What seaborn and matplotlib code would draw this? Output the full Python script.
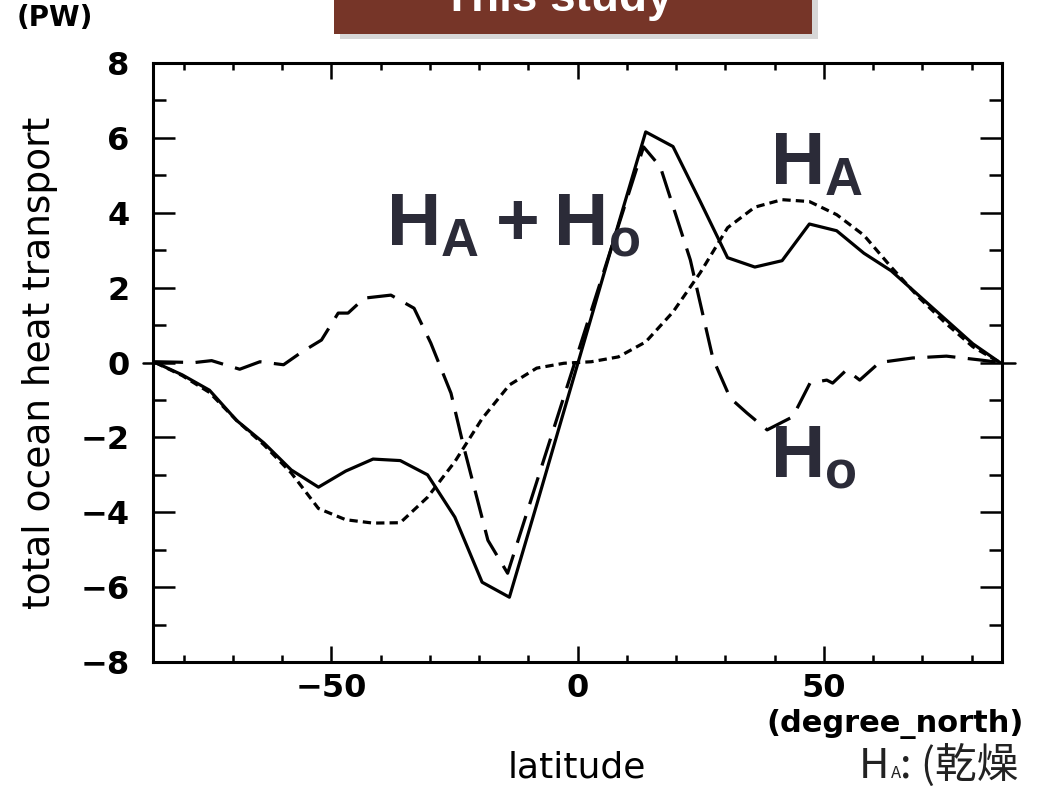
import numpy as np
import pandas as pd
import seaborn as sns
import matplotlib.pyplot as plt
from matplotlib.patches import Rectangle
from matplotlib.ticker import MultipleLocator

sns.set_theme(style='ticks')
plt.rcParams['font.family'] = ['DejaVu Sans']
plt.rcParams['mathtext.fontset'] = 'custom'
plt.rcParams['mathtext.bf'] = 'Liberation Sans:bold'
plt.rcParams['mathtext.rm'] = 'Liberation Sans'
plt.rcParams['text.color'] = 'black'
plt.rcParams['axes.labelcolor'] = 'black'
plt.rcParams['xtick.color'] = 'black'
plt.rcParams['ytick.color'] = 'black'

# T21 gaussian latitudes (atmosphere / total)
lat = [-85.76, -80.27, -74.74, -69.21, -63.68, -58.14, -52.61, -47.07, -41.53, -36.00,
       -30.46, -24.92, -19.38, -13.84, -8.30, -2.77, 2.77, 8.30, 13.84, 19.38,
       24.92, 30.46, 36.00, 41.53, 47.07, 52.61, 58.14, 63.68, 69.21, 74.74, 80.27, 85.76]
total = [0.0, -0.33, -0.74, -1.55, -2.15, -2.87, -3.33, -2.9, -2.58, -2.62,
         -3.0, -4.13, -5.87, -6.27, -3.8, -1.3, 1.2, 3.7, 6.16, 5.77,
         4.3, 2.8, 2.55, 2.72, 3.7, 3.52, 2.92, 2.45, 1.8, 1.15, 0.5, 0.0]
atmos = [0.0, -0.35, -0.8, -1.55, -2.2, -2.95, -3.9, -4.2, -4.29, -4.28,
         -3.6, -2.65, -1.5, -0.6, -0.15, -0.02, 0.02, 0.15, 0.55, 1.35,
         2.4, 3.6, 4.15, 4.35, 4.3, 3.95, 3.4, 2.55, 1.75, 1.05, 0.42, 0.0]

# ocean line (own sampling)
lat_ocean = [-85.8, -77.7, -74.3, -68.6, -64.5, -59.7, -56.0, -52.0, -48.6, -46.6, -43.3,
             -37.9, -33.2, -29.8, -25.7, -23.1, -18.2, -14.2, 13.4, 16.8, 22.9,
             27.5, 31.0, 34.4, 38.5, 43.7, 47.2, 50.6, 51.8, 54.6, 57.3, 61.3,
             68.0, 74.9, 81.6, 85.8]
ocean = [0.02, 0.0, 0.05, -0.18, 0.02, -0.06, 0.28, 0.6, 1.32, 1.32, 1.72,
         1.8, 1.45, 0.52, -0.82, -2.26, -4.75, -5.63, 5.76, 5.23, 2.74,
         0.1, -0.95, -1.35, -1.8, -1.45, -0.55, -0.47, -0.55, -0.2, -0.47, 0.0,
         0.12, 0.17, 0.07, 0.0]

df = pd.DataFrame({'lat': lat, 'total': total, 'atmos': atmos})
df_o = pd.DataFrame({'lat': lat_ocean, 'ocean': ocean})

fig = plt.figure(figsize=(10.46, 7.86), dpi=100)
ax = fig.add_axes([0.1463, 0.1578, 0.8117, 0.762])

sns.lineplot(data=df, x='lat', y='total', ax=ax, color='black', lw=2.3, sort=False, estimator=None)
sns.lineplot(data=df, x='lat', y='atmos', ax=ax, color='black', lw=2.3, sort=False, estimator=None,
             linestyle=(0, (2.6, 1.6)))
sns.lineplot(data=df_o, x='lat', y='ocean', ax=ax, color='black', lw=2.3, sort=False, estimator=None,
             linestyle=(0, (8.8, 3.9)))

ax.set_xlim(-86.2, 86.2)
ax.set_ylim(-8, 8)
ax.xaxis.set_major_locator(MultipleLocator(50))
ax.xaxis.set_minor_locator(MultipleLocator(10))
ax.yaxis.set_major_locator(MultipleLocator(2))
ax.yaxis.set_minor_locator(MultipleLocator(1))
ax.tick_params(axis='both', which='both', direction='in', top=True, right=True, color='black', width=1.8)
ax.tick_params(axis='y', which='major', length=15.8, pad=17, labelsize=23)
ax.tick_params(axis='y', which='minor', length=9.4)
ax.tick_params(axis='x', which='major', length=11.5, pad=8, labelsize=23)
ax.tick_params(axis='x', which='minor', length=5)
for lab in ax.get_xticklabels() + ax.get_yticklabels():
    lab.set_fontweight('bold')
for sp in ax.spines.values():
    sp.set_linewidth(2.2)
    sp.set_color('black')
# zero tick poking outside the frame
ax.axhline(0, xmin=-0.012, xmax=0.0, clip_on=False, color='black', lw=1.8)
ax.axhline(0, xmin=1.0, xmax=1.015, clip_on=False, color='black', lw=1.8)

ax.set_xlabel('')
ax.set_ylabel('total ocean heat transport', fontsize=27)
ax.yaxis.set_label_coords(-0.112, 0.5)

fig.text(55 / 1046, 1 - 18 / 786, '(PW)', ha='center', va='center', fontsize=20, fontweight='bold')
fig.text(895 / 1046, 1 - 724 / 786, '(degree_north)', ha='center', va='center', fontsize=22,
         fontweight='bold')
fig.text(577 / 1046, 1 - 767 / 786, 'latitude', ha='center', va='center', fontsize=26)

# big labels
lab_col = '#2b2b38'
ax.text(-38.9, 3.14, r'$\mathbf{H_A + H_o}$', fontsize=54, color=lab_col, ha='left', va='baseline')
ax.text(39.1, 4.75, r'$\mathbf{H_A}$', fontsize=54, color=lab_col, ha='left', va='baseline')
ax.text(39.1, -3.06, r'$\mathbf{H_o}$', fontsize=54, color=lab_col, ha='left', va='baseline')

# banner at the top
fig.patches.append(Rectangle((340 / 1046, 1 - 39 / 786), 478 / 1046, 40 / 786, transform=fig.transFigure,
                             facecolor='#b0b0b0', alpha=0.5, edgecolor='none', zorder=1))
fig.patches.append(Rectangle((334 / 1046, 1 - 34 / 786), 478 / 1046, 40 / 786, transform=fig.transFigure,
                             facecolor='#763528', edgecolor='none', zorder=2))
fig.text(558 / 1046, 1 - 11 / 786, 'This study', ha='center', va='baseline', fontsize=33,
         fontweight='bold', color='white', family='Liberation Sans', zorder=3)

# bottom-right note
note_font = ['Noto Sans CJK JP', 'DejaVu Sans']
fig.text(859 / 1046, 1 - 778 / 786, 'H', ha='left', va='baseline', fontsize=30, color='#222222',
         family=note_font)
fig.text(891 / 1046, 1 - 778 / 786, 'A', ha='left', va='baseline', fontsize=12, color='#222222',
         family=note_font)
fig.text(900 / 1046, 1 - 778 / 786, ': (乾燥', ha='left', va='baseline', fontsize=30, color='#222222',
         family=note_font)

fig.savefig('out.png', dpi=100)
